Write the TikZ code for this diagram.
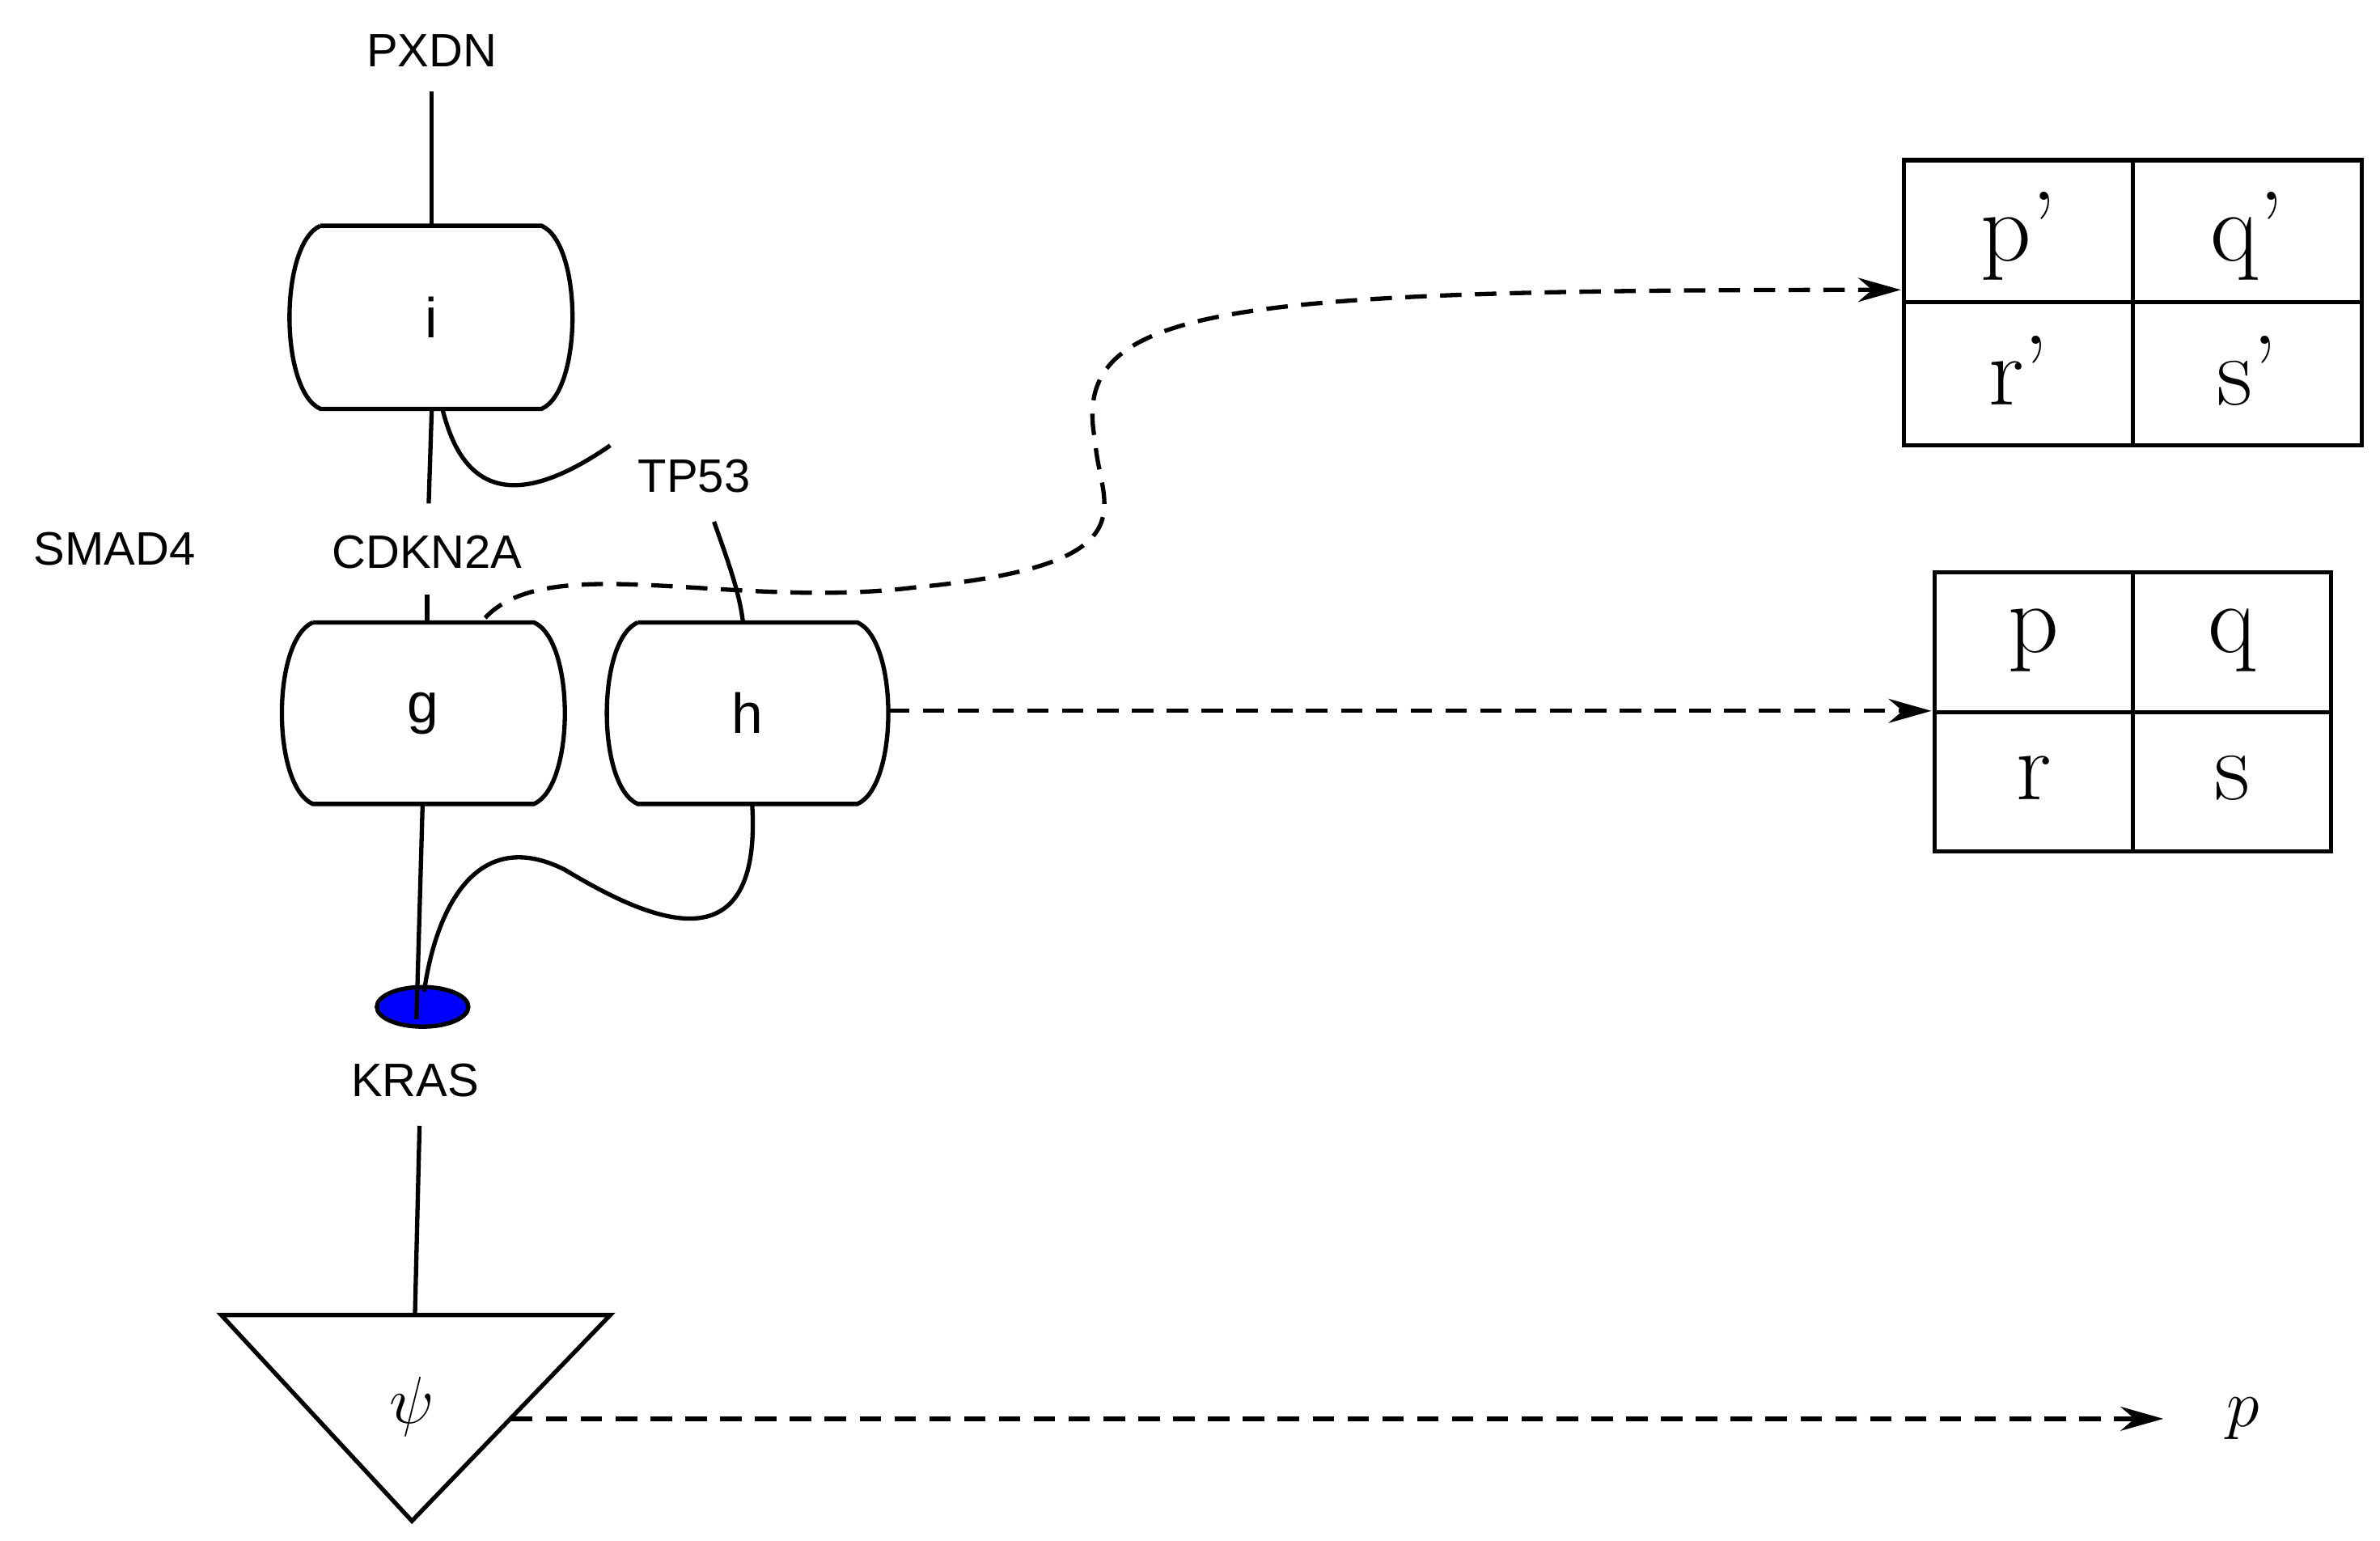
\documentclass[tikz,border=0pt]{standalone}
\usepackage{fontspec}
\setmainfont{Liberation Sans}
\usetikzlibrary{arrows.meta,positioning,shapes.geometric}
\newfontfamily\lmser{Latin Modern Roman}
% barrel shaped factor node: name, left, top, right, bottom, label
\newcommand{\factorbox}[6]{%
  \draw (#2+20,#3) -- (#4-20,#3)
    .. controls (#4+7,#3+12) and (#4+7,#5-12) .. (#4-20,#5)
    -- (#2+20,#5)
    .. controls (#2-7,#5-12) and (#2-7,#3+12) .. (#2+20,#3);
  \node[lbl,font=\fontsize{21}{24}\selectfont] (#1) at ({(#2+#4)/2},{(#3+#5)/2}) {#6};}
\begin{document}
\begin{tikzpicture}[x=0.02cm,y=-0.02cm,line width=1.6pt,>={Stealth[length=16pt,width=9pt]},
  lbl/.style={font=\fontsize{17.5}{20}\selectfont,inner sep=1pt},
  cell/.style={font=\lmser\fontsize{37}{40}\selectfont},
  msg/.style={dashed,dash pattern=on 8pt off 5pt,->}]
  \useasboundingbox (0,0) rectangle (1560,1010);
  \node[lbl] (pxdn) at (283,33) {PXDN};
  \node[lbl] (tp53) at (455,312) {TP53};
  \node[lbl] (smad) at (75,360) {SMAD4};
  \node[lbl] (cdkn) at (280,362) {CDKN2A};
  \node[lbl] (kras) at (272,708) {KRAS};
  \factorbox{i}{190}{148}{375}{268}{i}
  \factorbox{g}{185}{408}{370}{527}{g}
  \factorbox{h}{398}{408}{582}{527}{h}
  \node[draw,ellipse,fill=blue,minimum width=1.2cm,minimum height=0.52cm,inner sep=0] (krasv) at (277,660) {};
  \draw (145,862) -- (400,862) -- (270,997) -- cycle;
  \node[font=\fontsize{40}{42}\selectfont] (psi) at (270,922) {$\psi$};
  \node[font=\fontsize{40}{42}\selectfont] (p) at (1470,930) {$p$};
  % tables
  \draw (1248,105) rectangle (1548,292) (1398,105) -- (1398,292) (1248,198) -- (1548,198);
  \node[cell] (p1) at (1323,155) {p’}; \node[cell] (q1) at (1473,155) {q’};
  \node[cell] (r1) at (1323,243) {r’}; \node[cell] (s1) at (1473,243) {s’};
  \draw (1268,375) rectangle (1528,558) (1398,375) -- (1398,558) (1268,467) -- (1528,467);
  \node[cell] (p2) at (1333,420) {p}; \node[cell] (q2) at (1463,420) {q};
  \node[cell] (r2) at (1333,510) {r}; \node[cell] (s2) at (1463,510) {s};
  \coordinate (tab1) at (1246,190);
  \coordinate (tab2) at (1266,466);
  % edges
  \draw (283,60) -- (283,148);
  \draw (283,268) -- (281,330);
  \draw (290,268) .. controls (305,330) and (345,330) .. (400,292);
  \draw (280,390) -- (280,408);
  \draw (468,342) .. controls (478,370) and (485,390) .. (487,408);
  \draw (277,527) -- (273,668);
  \draw (493,527) .. controls (500,640) and (420,600) .. (370,570)
    .. controls (310,540) and (285,600) .. (278,650);
  \draw (275,738) -- (272,862);
  \draw[msg] (318,405) .. controls (360,360) and (480,400) .. (600,385)
    .. controls (760,370) and (720,330) .. (718,290)
    .. controls (700,200) and (800,190) .. (tab1);
  \draw[msg] (582,466) -- (tab2);
  \draw[msg] (335,930) -- (1418,930);
\end{tikzpicture}
\end{document}
